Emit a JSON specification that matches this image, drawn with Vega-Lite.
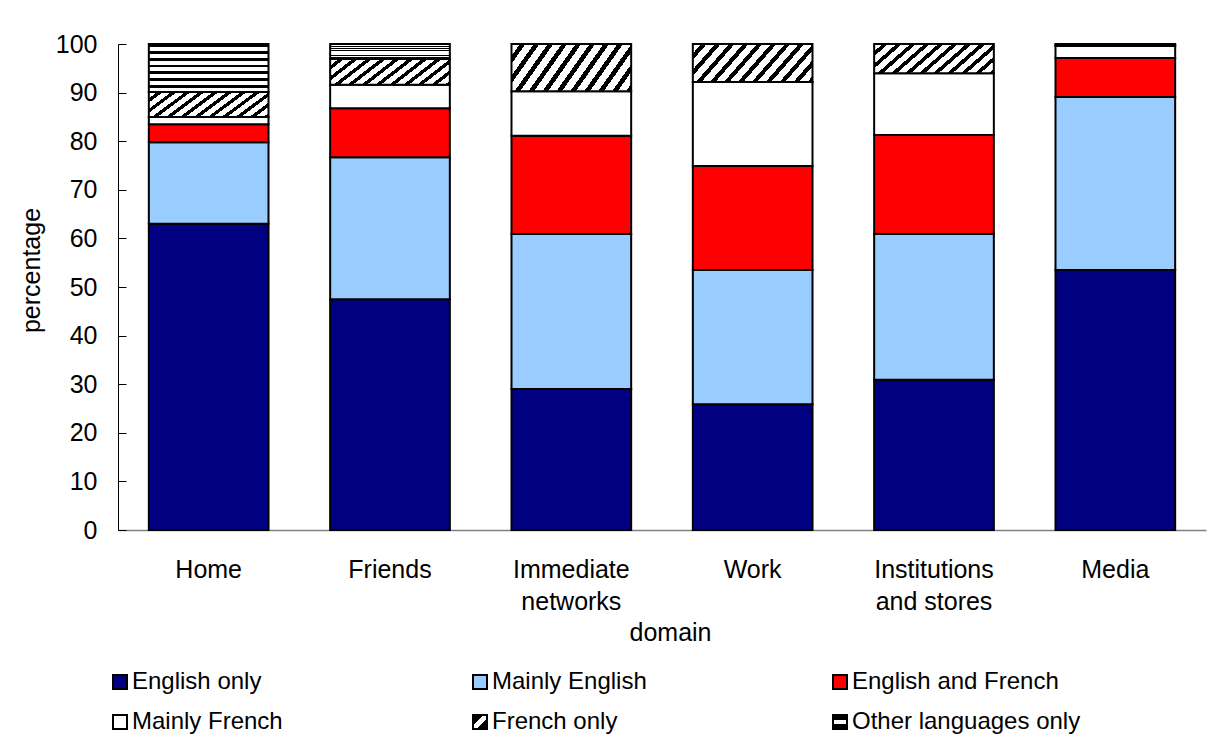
{
  "$schema": "https://vega.github.io/schema/vega-lite/v6.json",
  "width": 1088,
  "height": 486,
  "autosize": {"type": "none"},
  "padding": {"left": 118, "top": 44, "right": 11, "bottom": 209},
  "background": "white",
  "config": {
    "view": {"stroke": null},
    "font": "Liberation Sans",
    "axis": {"labelFont": "Liberation Sans", "titleFont": "Liberation Sans", "labelColor": "black", "titleColor": "black", "titleFontWeight": "normal"},
    "legend": {"labelFont": "Liberation Sans"}
  },
  "data": {
    "values": [
      {"domain": "Home", "lang": "English only", "pct": 63.0},
      {"domain": "Home", "lang": "Mainly English", "pct": 16.8},
      {"domain": "Home", "lang": "English and French", "pct": 3.7},
      {"domain": "Home", "lang": "Mainly French", "pct": 1.5},
      {"domain": "Home", "lang": "French only", "pct": 5.1},
      {"domain": "Home", "lang": "Other languages only", "pct": 9.9},
      {"domain": "Friends", "lang": "English only", "pct": 47.5},
      {"domain": "Friends", "lang": "Mainly English", "pct": 29.2},
      {"domain": "Friends", "lang": "English and French", "pct": 10.1},
      {"domain": "Friends", "lang": "Mainly French", "pct": 4.8},
      {"domain": "Friends", "lang": "French only", "pct": 5.3},
      {"domain": "Friends", "lang": "Other languages only", "pct": 3.1},
      {"domain": "Immediate networks", "lang": "English only", "pct": 29.0},
      {"domain": "Immediate networks", "lang": "Mainly English", "pct": 31.9},
      {"domain": "Immediate networks", "lang": "English and French", "pct": 20.2},
      {"domain": "Immediate networks", "lang": "Mainly French", "pct": 9.2},
      {"domain": "Immediate networks", "lang": "French only", "pct": 9.7},
      {"domain": "Work", "lang": "English only", "pct": 25.9},
      {"domain": "Work", "lang": "Mainly English", "pct": 27.6},
      {"domain": "Work", "lang": "English and French", "pct": 21.4},
      {"domain": "Work", "lang": "Mainly French", "pct": 17.3},
      {"domain": "Work", "lang": "French only", "pct": 7.8},
      {"domain": "Institutions and stores", "lang": "English only", "pct": 30.9},
      {"domain": "Institutions and stores", "lang": "Mainly English", "pct": 30.0},
      {"domain": "Institutions and stores", "lang": "English and French", "pct": 20.4},
      {"domain": "Institutions and stores", "lang": "Mainly French", "pct": 12.7},
      {"domain": "Institutions and stores", "lang": "French only", "pct": 6.0},
      {"domain": "Media", "lang": "English only", "pct": 53.5},
      {"domain": "Media", "lang": "Mainly English", "pct": 35.6},
      {"domain": "Media", "lang": "English and French", "pct": 8.0},
      {"domain": "Media", "lang": "Mainly French", "pct": 2.5},
      {"domain": "Media", "lang": "French only", "pct": 0.2},
      {"domain": "Media", "lang": "Other languages only", "pct": 0.2}
    ]
  },
  "transform": [
    {"calculate": "indexof(['English only','Mainly English','English and French','Mainly French','French only','Other languages only'], datum.lang)", "as": "stackOrder"}
  ],
  "encoding": {
    "x": {
      "field": "domain", "type": "nominal", "sort": null,
      "scale": {"paddingInner": 0.34, "paddingOuter": 0.17},
      "axis": {
        "title": "domain", "titleFontSize": 25, "titleX": 552, "titleY": 90, "titleBaseline": "top",
        "labelAngle": 0, "labelFontSize": 25, "labelPadding": 27, "labelLineHeight": 32, "labelBaseline": "top",
        "labelExpr": "datum.label === 'Immediate networks' ? ['Immediate', 'networks'] : datum.label === 'Institutions and stores' ? ['Institutions', 'and stores'] : datum.label",
        "ticks": false, "domainColor": "#808080", "domainWidth": 1.5
      }
    },
    "y": {
      "field": "pct", "type": "quantitative", "stack": "zero",
      "scale": {"domain": [0, 100], "nice": false},
      "axis": {
        "title": "percentage", "titleFontSize": 25, "titleX": -74, "titleY": 226,
        "values": [0, 10, 20, 30, 40, 50, 60, 70, 80, 90, 100],
        "labelFontSize": 25, "labelPadding": 29, "tickSize": -8, "tickColor": "black", "tickWidth": 1,
        "domainColor": "black", "domainWidth": 1, "grid": false
      }
    },
    "order": {"field": "stackOrder", "type": "quantitative"}
  },
  "layer": [
    {
      "mark": {"type": "bar", "stroke": "black", "strokeWidth": 2, "strokeJoin": "miter"},
      "encoding": {
        "fill": {
          "condition": [
            {"test": "datum.lang === 'French only'", "value": {
              "gradient": "linear", "x1": 0, "y1": 0, "x2": 1.19, "y2": 0.33,
              "stops": [
                {"offset": 0, "color": "white"}, {"offset": 0.0545, "color": "white"}, {"offset": 0.0545, "color": "black"}, {"offset": 0.0909, "color": "black"},
                {"offset": 0.0909, "color": "white"}, {"offset": 0.1455, "color": "white"}, {"offset": 0.1455, "color": "black"}, {"offset": 0.1818, "color": "black"},
                {"offset": 0.1818, "color": "white"}, {"offset": 0.2364, "color": "white"}, {"offset": 0.2364, "color": "black"}, {"offset": 0.2727, "color": "black"},
                {"offset": 0.2727, "color": "white"}, {"offset": 0.3273, "color": "white"}, {"offset": 0.3273, "color": "black"}, {"offset": 0.3636, "color": "black"},
                {"offset": 0.3636, "color": "white"}, {"offset": 0.4182, "color": "white"}, {"offset": 0.4182, "color": "black"}, {"offset": 0.4545, "color": "black"},
                {"offset": 0.4545, "color": "white"}, {"offset": 0.5091, "color": "white"}, {"offset": 0.5091, "color": "black"}, {"offset": 0.5455, "color": "black"},
                {"offset": 0.5455, "color": "white"}, {"offset": 0.6, "color": "white"}, {"offset": 0.6, "color": "black"}, {"offset": 0.6364, "color": "black"},
                {"offset": 0.6364, "color": "white"}, {"offset": 0.6909, "color": "white"}, {"offset": 0.6909, "color": "black"}, {"offset": 0.7273, "color": "black"},
                {"offset": 0.7273, "color": "white"}, {"offset": 0.7818, "color": "white"}, {"offset": 0.7818, "color": "black"}, {"offset": 0.8182, "color": "black"},
                {"offset": 0.8182, "color": "white"}, {"offset": 0.8727, "color": "white"}, {"offset": 0.8727, "color": "black"}, {"offset": 0.9091, "color": "black"},
                {"offset": 0.9091, "color": "white"}, {"offset": 0.9636, "color": "white"}, {"offset": 0.9636, "color": "black"}, {"offset": 1, "color": "black"}
              ]
            }},
            {"test": "datum.lang === 'Other languages only'", "value": {
              "gradient": "linear", "x1": 0, "y1": 0, "x2": 0, "y2": 1,
              "stops": [
                {"offset": 0, "color": "black"}, {"offset": 0.057, "color": "black"}, {"offset": 0.057, "color": "white"}, {"offset": 0.143, "color": "white"},
                {"offset": 0.143, "color": "black"}, {"offset": 0.2, "color": "black"}, {"offset": 0.2, "color": "white"}, {"offset": 0.286, "color": "white"},
                {"offset": 0.286, "color": "black"}, {"offset": 0.343, "color": "black"}, {"offset": 0.343, "color": "white"}, {"offset": 0.429, "color": "white"},
                {"offset": 0.429, "color": "black"}, {"offset": 0.486, "color": "black"}, {"offset": 0.486, "color": "white"}, {"offset": 0.571, "color": "white"},
                {"offset": 0.571, "color": "black"}, {"offset": 0.629, "color": "black"}, {"offset": 0.629, "color": "white"}, {"offset": 0.714, "color": "white"},
                {"offset": 0.714, "color": "black"}, {"offset": 0.771, "color": "black"}, {"offset": 0.771, "color": "white"}, {"offset": 0.857, "color": "white"},
                {"offset": 0.857, "color": "black"}, {"offset": 0.914, "color": "black"}, {"offset": 0.914, "color": "white"}, {"offset": 1, "color": "white"}
              ]
            }}
          ],
          "field": "lang", "type": "nominal", "legend": null,
          "scale": {
            "domain": ["English only", "Mainly English", "English and French", "Mainly French", "French only", "Other languages only"],
            "range": ["#000080", "#99CCFF", "#FF0000", "#FFFFFF", "#FFFFFF", "#FFFFFF"]
          }
        }
      }
    },
    {
      "mark": {"type": "bar", "stroke": "black", "strokeWidth": 2, "opacity": 0},
      "encoding": {
        "fill": {
          "field": "lang", "type": "nominal",
          "scale": {
            "domain": ["English only", "Mainly English", "English and French", "Mainly French", "French only", "Other languages only"],
            "range": ["#000080", "#99CCFF", "#FF0000", "#FFFFFF",
              {"expr": "{gradient: 'linear', x1: 0, y1: 0, x2: 1, y2: 1, stops: [{offset: 0, color: 'black'}, {offset: 0.38, color: 'black'}, {offset: 0.38, color: 'white'}, {offset: 0.62, color: 'white'}, {offset: 0.62, color: 'black'}, {offset: 1, color: 'black'}]}"},
              {"expr": "{gradient: 'linear', x1: 0, y1: 0, x2: 0, y2: 1, stops: [{offset: 0, color: 'black'}, {offset: 0.38, color: 'black'}, {offset: 0.38, color: 'white'}, {offset: 0.62, color: 'white'}, {offset: 0.62, color: 'black'}, {offset: 1, color: 'black'}]}"}
            ]
          },
          "legend": {
            "title": null, "orient": "none", "legendX": -10, "legendY": 626, "direction": "horizontal",
            "columns": 3, "gridAlign": "all", "columnPadding": 107, "rowPadding": 16, "padding": 0,
            "symbolType": "square", "symbolSize": 196, "symbolStrokeColor": "black", "symbolStrokeWidth": 2, "symbolOpacity": 1,
            "labelFontSize": 24, "labelColor": "black", "labelOffset": 0, "labelLimit": 400,
            "encode": {
              "symbols": {
                "update": {
                  "stroke": {"value": "black"},
                  "strokeWidth": {"value": 2},
                  "opacity": {"value": 1}
                }
              }
            }
          }
        }
      }
    }
  ],
  "resolve": {"scale": {"fill": "independent"}}
}
